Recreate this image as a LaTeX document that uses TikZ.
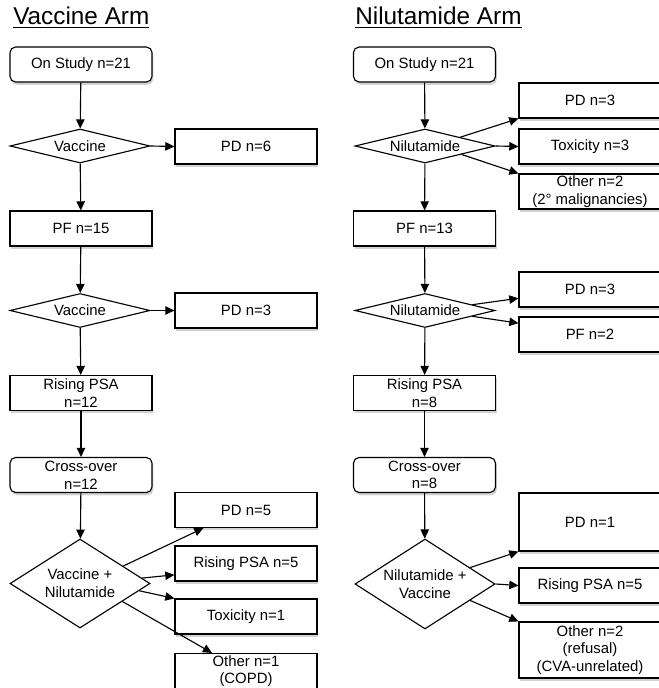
\documentclass[tikz,border=0pt]{standalone}
\usepackage{fontspec}
\setmainfont{Liberation Sans}
\usetikzlibrary{shapes.geometric,shadows,arrows.meta}

\tikzset{
	box/.style={draw, rectangle, fill=white, line width=0.8pt, minimum width=3.55cm, minimum height=0.875cm, align=center, inner sep=1pt, drop shadow={opacity=0.35, shadow xshift=1pt, shadow yshift=-2pt}},
	rbox/.style={box, rounded corners=4pt},
	choice/.style={draw, diamond, fill=white, line width=0.8pt, aspect=4.1, inner sep=0pt, minimum width=3.5cm, minimum height=0.85cm, align=center},
	arm/.style={anchor=base west, inner sep=0pt, font=\fontsize{17.3}{20}\selectfont},
	flow/.style={-{Triangle[length=6.5pt,width=6pt]}, line width=0.8pt}
}

\begin{document}
\begin{tikzpicture}[x=0.025cm, y=-0.025cm, font=\fontsize{10.6}{12.6}\selectfont]
	\useasboundingbox (0,0) rectangle (658,688);
	\node[arm] (vacarm) at (13,25) {\underline{Vaccine Arm}};
	\node[arm] (nilarm) at (355,25) {\underline{Nilutamide Arm}};

	% vaccine arm
	\node[rbox] (vstart) at (81,64.5) {On Study n=21};
	\node[choice] (vac1) at (80,146) {Vaccine};
	\node[box] (vpd6) at (246,146.5) {PD n=6};
	\node[box] (vpf15) at (81,228.5) {PF n=15};
	\node[choice] (vac2) at (80,310.5) {Vaccine};
	\node[box] (vpd3) at (246,310.5) {PD n=3};
	\node[box] (vrise12) at (81,393) {Rising PSA\\n=12};
	\node[rbox] (vcross) at (81,475) {Cross-over\\n=12};
	\node[choice, aspect=1.6, minimum height=2.225cm] (vacnil) at (80,583.5) {Vaccine +\\Nilutamide};
	\node[box] (vpd5) at (246,510) {PD n=5};
	\node[box] (vrise5) at (246,563.5) {Rising PSA n=5};
	\node[box] (vtox1) at (246,616.5) {Toxicity n=1};
	\node[box] (voth1) at (246,671) {Other n=1\\(COPD)};

	\draw[flow] (vstart) -- (vac1);
	\draw[flow] (vac1.east) -- (vpd6.west);
	\draw[flow] (vac1) -- (vpf15);
	\draw[flow] (vpf15) -- (vac2);
	\draw[flow] (vac2.east) -- (vpd3.west);
	\draw[flow] (vac2) -- (vrise12);
	\draw[flow] (vrise12) -- (vcross);
	\draw[flow] (vcross) -- (vacnil);
	\draw[flow] (vacnil.22) -- (vpd5.203);
	\draw[flow] (vacnil.5) -- (vrise5.189);
	\draw[flow] (vacnil.-7) -- (vtox1.north west);
	\draw[flow] (vacnil.-23) -- (voth1.152);

	% nilutamide arm
	\node[rbox] (nstart) at (424.5,64.5) {On Study n=21};
	\node[choice] (nil1) at (425,146) {Nilutamide};
	\node[box] (npd3a) at (590,100.5) {PD n=3};
	\node[box] (ntox3) at (590,146.5) {Toxicity n=3};
	\node[box] (noth2a) at (590,191.5) {Other n=2\\(2° malignancies)};
	\node[box] (npf13) at (424.5,228.5) {PF n=13};
	\node[choice] (nil2) at (425,310.5) {Nilutamide};
	\node[box] (npd3b) at (590,289.5) {PD n=3};
	\node[box] (npf2) at (590,334.5) {PF n=2};
	\node[box] (nrise8) at (424.5,393) {Rising PSA\\n=8};
	\node[rbox] (ncross) at (424.5,475) {Cross-over\\n=8};
	\node[choice, aspect=1.6, minimum height=2.25cm] (nilvac) at (425,584) {Nilutamide +\\Vaccine};
	\node[box, minimum height=1.45cm] (npd1) at (590,522) {PD n=1};
	\node[box] (nrise5) at (590,585.5) {Rising PSA n=5};
	\node[box, minimum height=1.4cm] (noth2b) at (590,650) {Other n=2\\(refusal)\\(CVA-unrelated)};

	\draw[flow] (nstart) -- (nil1);
	\draw[flow] (nil1.14) -- (npd3a.south west);
	\draw[flow] (nil1.east) -- (ntox3.west);
	\draw[flow] (nil1.-13) -- (noth2a.north west);
	\draw[flow] (nil1) -- (npf13);
	\draw[flow] (npf13) -- (nil2);
	\draw[flow] (nil2.7) -- (npd3b.187);
	\draw[flow] (nil2.-7) -- (npf2.171);
	\draw[flow] (nil2) -- (nrise8);
	\draw[flow] (nrise8) -- (ncross);
	\draw[flow] (ncross) -- (nilvac);
	\draw[flow] (nilvac.20) -- (npd1.south west);
	\draw[flow] (nilvac.east) -- (nrise5.west);
	\draw[flow] (nilvac.-20) -- (noth2b.north west);
%	\draw[flow] (nilvac.south) -- ++(0,40);
\end{tikzpicture}
\end{document}
